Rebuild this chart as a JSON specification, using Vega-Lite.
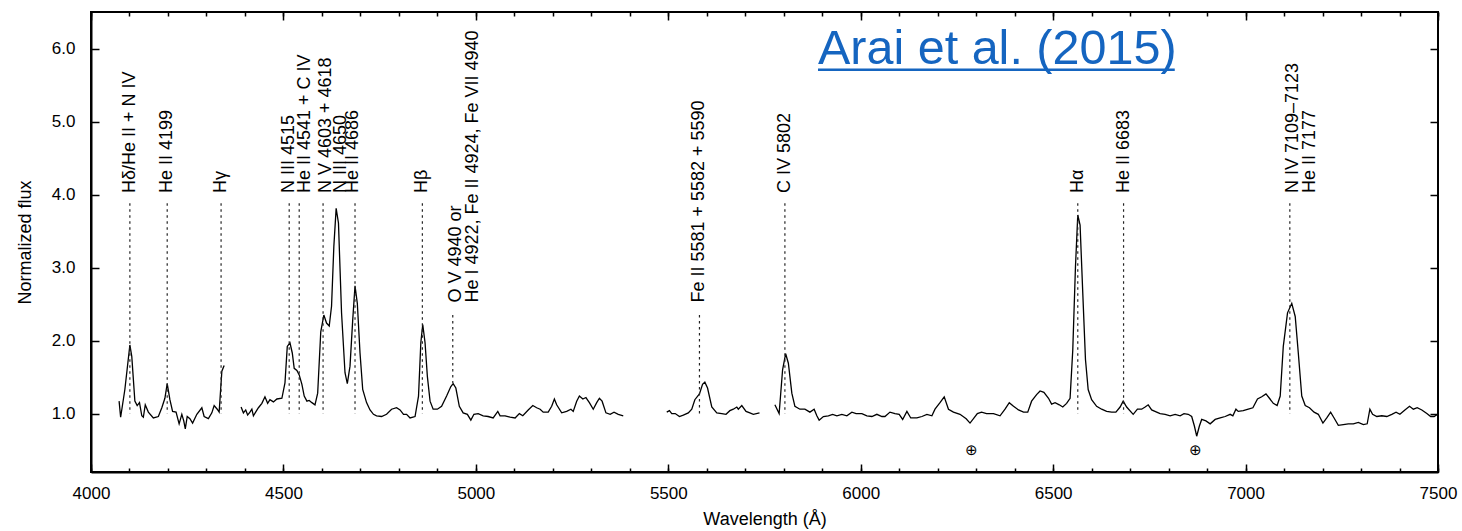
{
  "$schema": "https://vega.github.io/schema/vega-lite/v6.json",
  "width": 1347,
  "height": 460,
  "autosize": {"type": "none"},
  "padding": {"left": 91, "top": 12, "right": 24, "bottom": 59},
  "background": "white",
  "config": {
    "view": {"stroke": "black", "strokeWidth": 2},
    "font": "Liberation Sans",
    "axis": {
      "grid": false,
      "domainColor": "black",
      "domainWidth": 2,
      "tickColor": "black",
      "tickWidth": 1.5,
      "labelColor": "black",
      "titleColor": "black",
      "labelFont": "Liberation Sans",
      "titleFont": "Liberation Sans",
      "labelFontSize": 17,
      "titleFontSize": 18,
      "titleFontWeight": "normal"
    }
  },
  "datasets": {
    "spectrum": [
      {"w":4073,"f":1.17,"s":1},{"w":4077,"f":0.95,"s":1},{"w":4088,"f":1.33,"s":1},{"w":4101,"f":1.94,"s":1},{"w":4106,"f":1.78,"s":1},{"w":4114,"f":1.17,"s":1},{"w":4120,"f":1.11,"s":1},{"w":4126,"f":1.15,"s":1},{"w":4132,"f":0.97,"s":1},{"w":4136,"f":0.95,"s":1},{"w":4141,"f":1.12,"s":1},{"w":4149,"f":1.02,"s":1},{"w":4162,"f":0.94,"s":1},{"w":4175,"f":0.96,"s":1},{"w":4184,"f":1.08,"s":1},{"w":4192,"f":1.21,"s":1},{"w":4198,"f":1.41,"s":1},{"w":4205,"f":1.19,"s":1},{"w":4212,"f":1.03,"s":1},{"w":4221,"f":1.02,"s":1},{"w":4229,"f":0.86,"s":1},{"w":4236,"f":0.99,"s":1},{"w":4241,"f":0.90,"s":1},{"w":4245,"f":0.79,"s":1},{"w":4250,"f":0.96,"s":1},{"w":4257,"f":0.93,"s":1},{"w":4264,"f":0.87,"s":1},{"w":4275,"f":0.99,"s":1},{"w":4288,"f":1.08,"s":1},{"w":4294,"f":0.96,"s":1},{"w":4305,"f":0.93,"s":1},{"w":4314,"f":1.01,"s":1},{"w":4320,"f":1.11,"s":1},{"w":4328,"f":1.06,"s":1},{"w":4333,"f":1.02,"s":1},{"w":4340,"f":1.58,"s":1},{"w":4346,"f":1.66,"s":1},
      {"w":4390,"f":1.09,"s":2},{"w":4396,"f":1.01,"s":2},{"w":4402,"f":1.05,"s":2},{"w":4407,"f":0.98,"s":2},{"w":4413,"f":1.02,"s":2},{"w":4418,"f":1.06,"s":2},{"w":4422,"f":0.97,"s":2},{"w":4429,"f":1.03,"s":2},{"w":4435,"f":1.08,"s":2},{"w":4444,"f":1.14,"s":2},{"w":4452,"f":1.23,"s":2},{"w":4459,"f":1.14,"s":2},{"w":4465,"f":1.19,"s":2},{"w":4474,"f":1.16,"s":2},{"w":4483,"f":1.20,"s":2},{"w":4496,"f":1.21,"s":2},{"w":4504,"f":1.42,"s":2},{"w":4510,"f":1.92,"s":2},{"w":4517,"f":1.97,"s":2},{"w":4523,"f":1.83,"s":2},{"w":4528,"f":1.62,"s":2},{"w":4535,"f":1.59,"s":2},{"w":4541,"f":1.53,"s":2},{"w":4548,"f":1.40,"s":2},{"w":4554,"f":1.24,"s":2},{"w":4561,"f":1.17,"s":2},{"w":4567,"f":1.18,"s":2},{"w":4574,"f":1.15,"s":2},{"w":4582,"f":1.12,"s":2},{"w":4589,"f":1.28,"s":2},{"w":4597,"f":2.12,"s":2},{"w":4605,"f":2.35,"s":2},{"w":4612,"f":2.24,"s":2},{"w":4619,"f":2.20,"s":2},{"w":4625,"f":2.47,"s":2},{"w":4631,"f":3.29,"s":2},{"w":4637,"f":3.81,"s":2},{"w":4643,"f":3.61,"s":2},{"w":4651,"f":2.38,"s":2},{"w":4660,"f":1.56,"s":2},{"w":4666,"f":1.41,"s":2},{"w":4673,"f":1.65,"s":2},{"w":4680,"f":2.28,"s":2},{"w":4686,"f":2.75,"s":2},{"w":4692,"f":2.51,"s":2},{"w":4699,"f":1.83,"s":2},{"w":4706,"f":1.33,"s":2},{"w":4716,"f":1.15,"s":2},{"w":4725,"f":1.05,"s":2},{"w":4734,"f":0.99,"s":2},{"w":4742,"f":0.97,"s":2},{"w":4755,"f":0.96,"s":2},{"w":4768,"f":0.99,"s":2},{"w":4781,"f":1.06,"s":2},{"w":4794,"f":1.08,"s":2},{"w":4803,"f":1.05,"s":2},{"w":4812,"f":0.99,"s":2},{"w":4820,"f":0.99,"s":2},{"w":4829,"f":0.94,"s":2},{"w":4842,"f":0.96,"s":2},{"w":4851,"f":1.24,"s":2},{"w":4857,"f":1.97,"s":2},{"w":4862,"f":2.22,"s":2},{"w":4868,"f":1.97,"s":2},{"w":4874,"f":1.51,"s":2},{"w":4881,"f":1.17,"s":2},{"w":4889,"f":1.06,"s":2},{"w":4900,"f":1.06,"s":2},{"w":4911,"f":1.10,"s":2},{"w":4924,"f":1.24,"s":2},{"w":4935,"f":1.37,"s":2},{"w":4941,"f":1.41,"s":2},{"w":4948,"f":1.35,"s":2},{"w":4957,"f":1.10,"s":2},{"w":4967,"f":1.01,"s":2},{"w":4978,"f":0.99,"s":2},{"w":4987,"f":0.91,"s":2},{"w":4995,"f":0.99,"s":2},{"w":5006,"f":1.00,"s":2},{"w":5019,"f":0.97,"s":2},{"w":5032,"f":0.96,"s":2},{"w":5045,"f":0.94,"s":2},{"w":5057,"f":1.03,"s":2},{"w":5063,"f":0.97,"s":2},{"w":5076,"f":0.97,"s":2},{"w":5089,"f":0.95,"s":2},{"w":5102,"f":0.94,"s":2},{"w":5113,"f":1.00,"s":2},{"w":5122,"f":0.97,"s":2},{"w":5136,"f":1.05,"s":2},{"w":5148,"f":1.11,"s":2},{"w":5158,"f":1.08,"s":2},{"w":5167,"f":1.06,"s":2},{"w":5175,"f":1.02,"s":2},{"w":5188,"f":1.02,"s":2},{"w":5197,"f":1.10,"s":2},{"w":5204,"f":1.20,"s":2},{"w":5210,"f":1.12,"s":2},{"w":5223,"f":1.01,"s":2},{"w":5236,"f":1.03,"s":2},{"w":5247,"f":1.06,"s":2},{"w":5253,"f":1.03,"s":2},{"w":5262,"f":1.17,"s":2},{"w":5269,"f":1.24,"s":2},{"w":5278,"f":1.20,"s":2},{"w":5286,"f":1.22,"s":2},{"w":5295,"f":1.15,"s":2},{"w":5305,"f":1.06,"s":2},{"w":5314,"f":1.15,"s":2},{"w":5321,"f":1.21,"s":2},{"w":5328,"f":1.17,"s":2},{"w":5338,"f":1.01,"s":2},{"w":5349,"f":0.99,"s":2},{"w":5359,"f":1.02,"s":2},{"w":5370,"f":0.99,"s":2},{"w":5383,"f":0.97,"s":2},
      {"w":5496,"f":1.02,"s":3},{"w":5503,"f":1.04,"s":3},{"w":5509,"f":1.00,"s":3},{"w":5518,"f":1.00,"s":3},{"w":5529,"f":0.96,"s":3},{"w":5539,"f":0.98,"s":3},{"w":5552,"f":1.01,"s":3},{"w":5561,"f":1.06,"s":3},{"w":5569,"f":1.19,"s":3},{"w":5581,"f":1.27,"s":3},{"w":5589,"f":1.40,"s":3},{"w":5595,"f":1.43,"s":3},{"w":5602,"f":1.35,"s":3},{"w":5613,"f":1.09,"s":3},{"w":5626,"f":1.01,"s":3},{"w":5639,"f":1.00,"s":3},{"w":5650,"f":0.99,"s":3},{"w":5660,"f":1.04,"s":3},{"w":5669,"f":1.06,"s":3},{"w":5678,"f":1.09,"s":3},{"w":5682,"f":1.06,"s":3},{"w":5691,"f":1.11,"s":3},{"w":5702,"f":1.03,"s":3},{"w":5712,"f":1.01,"s":3},{"w":5721,"f":0.99,"s":3},{"w":5737,"f":1.01,"s":3},
      {"w":5777,"f":1.12,"s":4},{"w":5788,"f":1.00,"s":4},{"w":5797,"f":1.60,"s":4},{"w":5805,"f":1.82,"s":4},{"w":5812,"f":1.69,"s":4},{"w":5821,"f":1.28,"s":4},{"w":5829,"f":1.10,"s":4},{"w":5842,"f":1.06,"s":4},{"w":5855,"f":1.06,"s":4},{"w":5868,"f":1.02,"s":4},{"w":5879,"f":1.06,"s":4},{"w":5886,"f":0.97,"s":4},{"w":5892,"f":0.91,"s":4},{"w":5903,"f":0.96,"s":4},{"w":5916,"f":0.97,"s":4},{"w":5927,"f":0.99,"s":4},{"w":5938,"f":0.97,"s":4},{"w":5951,"f":0.99,"s":4},{"w":5964,"f":0.97,"s":4},{"w":5977,"f":1.02,"s":4},{"w":5988,"f":1.00,"s":4},{"w":6003,"f":1.00,"s":4},{"w":6016,"f":0.97,"s":4},{"w":6029,"f":0.96,"s":4},{"w":6042,"f":0.99,"s":4},{"w":6055,"f":0.96,"s":4},{"w":6063,"f":0.96,"s":4},{"w":6076,"f":1.02,"s":4},{"w":6089,"f":1.00,"s":4},{"w":6100,"f":0.99,"s":4},{"w":6109,"f":0.92,"s":4},{"w":6120,"f":1.03,"s":4},{"w":6130,"f":0.94,"s":4},{"w":6146,"f":0.94,"s":4},{"w":6159,"f":0.96,"s":4},{"w":6172,"f":0.99,"s":4},{"w":6185,"f":0.97,"s":4},{"w":6193,"f":1.06,"s":4},{"w":6206,"f":1.15,"s":4},{"w":6217,"f":1.23,"s":4},{"w":6228,"f":1.06,"s":4},{"w":6241,"f":1.02,"s":4},{"w":6258,"f":0.99,"s":4},{"w":6274,"f":0.93,"s":4},{"w":6284,"f":0.87,"s":4},{"w":6293,"f":0.93,"s":4},{"w":6303,"f":1.00,"s":4},{"w":6314,"f":1.02,"s":4},{"w":6327,"f":1.00,"s":4},{"w":6345,"f":1.00,"s":4},{"w":6362,"f":0.97,"s":4},{"w":6375,"f":1.06,"s":4},{"w":6386,"f":1.15,"s":4},{"w":6397,"f":1.10,"s":4},{"w":6410,"f":1.05,"s":4},{"w":6423,"f":1.02,"s":4},{"w":6434,"f":1.02,"s":4},{"w":6444,"f":1.17,"s":4},{"w":6457,"f":1.26,"s":4},{"w":6466,"f":1.31,"s":4},{"w":6476,"f":1.29,"s":4},{"w":6488,"f":1.21,"s":4},{"w":6496,"f":1.13,"s":4},{"w":6505,"f":1.15,"s":4},{"w":6516,"f":1.12,"s":4},{"w":6525,"f":1.09,"s":4},{"w":6535,"f":1.14,"s":4},{"w":6544,"f":1.21,"s":4},{"w":6551,"f":1.87,"s":4},{"w":6558,"f":3.01,"s":4},{"w":6564,"f":3.72,"s":4},{"w":6570,"f":3.58,"s":4},{"w":6577,"f":2.65,"s":4},{"w":6584,"f":1.74,"s":4},{"w":6591,"f":1.33,"s":4},{"w":6600,"f":1.19,"s":4},{"w":6613,"f":1.10,"s":4},{"w":6626,"f":1.06,"s":4},{"w":6639,"f":1.03,"s":4},{"w":6652,"f":1.02,"s":4},{"w":6663,"f":1.02,"s":4},{"w":6674,"f":1.09,"s":4},{"w":6682,"f":1.17,"s":4},{"w":6691,"f":1.09,"s":4},{"w":6708,"f":0.99,"s":4},{"w":6719,"f":1.06,"s":4},{"w":6730,"f":1.06,"s":4},{"w":6739,"f":1.09,"s":4},{"w":6747,"f":1.12,"s":4},{"w":6756,"f":1.05,"s":4},{"w":6769,"f":1.02,"s":4},{"w":6778,"f":1.00,"s":4},{"w":6791,"f":0.99,"s":4},{"w":6804,"f":0.97,"s":4},{"w":6817,"f":0.99,"s":4},{"w":6830,"f":0.97,"s":4},{"w":6840,"f":1.00,"s":4},{"w":6851,"f":0.99,"s":4},{"w":6860,"f":0.96,"s":4},{"w":6867,"f":0.83,"s":4},{"w":6873,"f":0.69,"s":4},{"w":6880,"f":0.83,"s":4},{"w":6886,"f":0.92,"s":4},{"w":6897,"f":0.90,"s":4},{"w":6908,"f":0.86,"s":4},{"w":6921,"f":0.92,"s":4},{"w":6934,"f":0.94,"s":4},{"w":6947,"f":0.96,"s":4},{"w":6960,"f":0.99,"s":4},{"w":6967,"f":0.97,"s":4},{"w":6975,"f":1.06,"s":4},{"w":6981,"f":1.03,"s":4},{"w":6994,"f":1.04,"s":4},{"w":7007,"f":1.06,"s":4},{"w":7019,"f":1.08,"s":4},{"w":7031,"f":1.20,"s":4},{"w":7042,"f":1.23,"s":4},{"w":7053,"f":1.27,"s":4},{"w":7062,"f":1.21,"s":4},{"w":7072,"f":1.14,"s":4},{"w":7082,"f":1.11,"s":4},{"w":7090,"f":1.24,"s":4},{"w":7098,"f":1.92,"s":4},{"w":7109,"f":2.38,"s":4},{"w":7120,"f":2.51,"s":4},{"w":7129,"f":2.33,"s":4},{"w":7137,"f":1.83,"s":4},{"w":7146,"f":1.24,"s":4},{"w":7155,"f":1.11,"s":4},{"w":7166,"f":1.08,"s":4},{"w":7178,"f":1.02,"s":4},{"w":7189,"f":0.99,"s":4},{"w":7201,"f":0.87,"s":4},{"w":7211,"f":0.94,"s":4},{"w":7221,"f":1.02,"s":4},{"w":7230,"f":0.94,"s":4},{"w":7241,"f":0.84,"s":4},{"w":7254,"f":0.85,"s":4},{"w":7267,"f":0.86,"s":4},{"w":7280,"f":0.86,"s":4},{"w":7293,"f":0.88,"s":4},{"w":7306,"f":0.85,"s":4},{"w":7316,"f":0.86,"s":4},{"w":7323,"f":1.06,"s":4},{"w":7330,"f":0.99,"s":4},{"w":7341,"f":0.96,"s":4},{"w":7354,"f":0.97,"s":4},{"w":7367,"f":0.96,"s":4},{"w":7380,"f":0.99,"s":4},{"w":7391,"f":1.02,"s":4},{"w":7401,"f":0.99,"s":4},{"w":7414,"f":1.05,"s":4},{"w":7426,"f":1.10,"s":4},{"w":7436,"f":1.06,"s":4},{"w":7446,"f":1.08,"s":4},{"w":7458,"f":1.05,"s":4},{"w":7471,"f":1.00,"s":4},{"w":7481,"f":0.96,"s":4},{"w":7490,"f":0.96,"s":4},{"w":7499,"f":0.99,"s":4}
    ],
    "lines": [
      {"w":4101,"label_w":4101,"label":"Hδ/He II + N IV","label_flux":4.02,"tick_top":3.88,"tick_bottom":1.0,"rows":1},
      {"w":4198,"label_w":4198,"label":"He II 4199","label_flux":4.02,"tick_top":3.88,"tick_bottom":1.0,"rows":1},
      {"w":4338,"label_w":4338,"label":"Hγ","label_flux":4.02,"tick_top":3.88,"tick_bottom":1.0,"rows":1},
      {"w":4515,"label_w":4515,"label":"N III 4515","label_flux":4.02,"tick_top":3.88,"tick_bottom":1.0,"rows":1},
      {"w":4541,"label_w":4556,"label":"He II 4541 + C IV","label_flux":4.02,"tick_top":3.88,"tick_bottom":1.0,"rows":1},
      {"w":4603,"label_w":4611,"label":"N V 4603 + 4618","label_flux":4.02,"tick_top":3.88,"tick_bottom":1.0,"rows":1},
      {"w":4650,"label_w":4650,"label":"N III 4650","label_flux":4.02,"tick_top":null,"tick_bottom":null,"rows":1},
      {"w":4686,"label_w":4680,"label":"He II 4686","label_flux":4.02,"tick_top":3.88,"tick_bottom":1.0,"rows":1},
      {"w":4861,"label_w":4861,"label":"Hβ","label_flux":4.02,"tick_top":3.88,"tick_bottom":1.0,"rows":1},
      {"w":4940,"label_w":4940,"label":"O V 4940 or\nHe I 4922, Fe II 4924, Fe VII 4940","label_flux":2.52,"tick_top":2.35,"tick_bottom":1.42,"rows":2},
      {"w":5581,"label_w":5581,"label":"Fe II 5581 + 5582 + 5590","label_flux":2.52,"tick_top":2.35,"tick_bottom":1.0,"rows":1},
      {"w":5803,"label_w":5803,"label":"C IV 5802","label_flux":4.02,"tick_top":3.88,"tick_bottom":1.0,"rows":1},
      {"w":6564,"label_w":6564,"label":"Hα","label_flux":4.02,"tick_top":3.88,"tick_bottom":1.0,"rows":1},
      {"w":6683,"label_w":6683,"label":"He II 6683","label_flux":4.02,"tick_top":3.88,"tick_bottom":1.0,"rows":1},
      {"w":7115,"label_w":7115,"label":"N IV 7109–7123\nHe II 7177","label_flux":4.02,"tick_top":3.88,"tick_bottom":1.0,"rows":2}
    ],
    "telluric": [
      {"w":6289,"f":0.495,"sym":"⊕"},
      {"w":6871,"f":0.495,"sym":"⊕"}
    ],
    "credit": [
      {"w":5889,"w_end":6816,"f":5.79,"f_rule":5.71,"text":"Arai et al. (2015)"}
    ]
  },
  "resolve": {"axis": {"x": "independent", "y": "independent"}},
  "layer": [
    {
      "data": {"name": "spectrum"},
      "mark": {"type": "line", "color": "black", "strokeWidth": 1.3},
      "encoding": {
        "x": {
          "field": "w", "type": "quantitative",
          "scale": {"domain": [4000, 7500], "nice": false, "zero": false},
          "axis": {
            "orient": "bottom",
            "values": [4000, 4500, 5000, 5500, 6000, 6500, 7000, 7500],
            "format": "d",
            "tickSize": -8,
            "labelPadding": 21,
            "labelFlush": false,
            "labelOverlap": false,
            "title": "Wavelength (Å)",
            "titleX": 673.5,
            "titleY": 47,
            "titleAlign": "center",
            "titleBaseline": "middle"
          }
        },
        "y": {
          "field": "f", "type": "quantitative",
          "scale": {"domain": [0.2, 6.5], "nice": false, "zero": false},
          "axis": {
            "orient": "left",
            "values": [1, 2, 3, 4, 5, 6],
            "format": ".1f",
            "tickSize": -8,
            "labelPadding": 24,
            "labelFlush": false,
            "title": "Normalized flux",
            "titleX": -66,
            "titleY": 230,
            "titleAngle": -90,
            "titleAlign": "center",
            "titleBaseline": "middle"
          }
        },
        "detail": {"field": "s"}
      }
    },
    {
      "data": {"name": "lines"},
      "transform": [{"filter": "datum.tick_top != null"}],
      "mark": {"type": "rule", "color": "#222222", "strokeWidth": 1.2, "strokeDash": [2.5, 3.5]},
      "encoding": {
        "x": {
          "field": "w", "type": "quantitative",
          "scale": {"domain": [4000, 7500], "nice": false, "zero": false},
          "axis": {
            "orient": "bottom",
            "values": [4000,4100,4200,4300,4400,4500,4600,4700,4800,4900,5000,5100,5200,5300,5400,5500,5600,5700,5800,5900,6000,6100,6200,6300,6400,6500,6600,6700,6800,6900,7000,7100,7200,7300,7400,7500],
            "tickSize": -4,
            "labels": false,
            "domain": false,
            "title": null
          }
        },
        "y": {
          "field": "tick_top", "type": "quantitative",
          "scale": {"domain": [0.2, 6.5], "nice": false, "zero": false},
          "axis": {
            "orient": "right",
            "values": [1, 2, 3, 4, 5, 6],
            "tickSize": -8,
            "labels": false,
            "domain": false,
            "title": null
          }
        },
        "y2": {"field": "tick_bottom"}
      }
    },
    {
      "data": {"name": "lines"},
      "transform": [{"filter": "datum.rows == 1"}],
      "mark": {"type": "text", "angle": 270, "align": "left", "baseline": "middle", "fontSize": 18, "color": "black", "font": "Liberation Sans"},
      "encoding": {
        "x": {
          "field": "label_w", "type": "quantitative",
          "scale": {"domain": [4000, 7500], "nice": false, "zero": false},
          "axis": {
            "orient": "top",
            "values": [4000, 4500, 5000, 5500, 6000, 6500, 7000, 7500],
            "tickSize": -8,
            "labels": false,
            "domain": false,
            "title": null
          }
        },
        "y": {
          "field": "label_flux", "type": "quantitative",
          "scale": {"domain": [0.2, 6.5], "nice": false, "zero": false},
          "axis": null
        },
        "text": {"field": "label"}
      }
    },
    {
      "data": {"name": "lines"},
      "transform": [{"filter": "datum.rows == 2"}],
      "mark": {"type": "text", "angle": 270, "align": "left", "baseline": "middle", "fontSize": 18, "lineBreak": "\n", "lineHeight": 17, "dy": 3, "color": "black", "font": "Liberation Sans"},
      "encoding": {
        "x": {
          "field": "label_w", "type": "quantitative",
          "scale": {"domain": [4000, 7500], "nice": false, "zero": false},
          "axis": {
            "orient": "top",
            "values": [4000,4100,4200,4300,4400,4500,4600,4700,4800,4900,5000,5100,5200,5300,5400,5500,5600,5700,5800,5900,6000,6100,6200,6300,6400,6500,6600,6700,6800,6900,7000,7100,7200,7300,7400,7500],
            "tickSize": -4,
            "labels": false,
            "domain": false,
            "title": null
          }
        },
        "y": {
          "field": "label_flux", "type": "quantitative",
          "scale": {"domain": [0.2, 6.5], "nice": false, "zero": false},
          "axis": null
        },
        "text": {"field": "label"}
      }
    },
    {
      "data": {"name": "telluric"},
      "mark": {"type": "text", "fontSize": 15, "color": "black", "baseline": "middle", "align": "center"},
      "encoding": {
        "x": {"field": "w", "type": "quantitative", "scale": {"domain": [4000, 7500], "nice": false, "zero": false}, "axis": null},
        "y": {"field": "f", "type": "quantitative", "scale": {"domain": [0.2, 6.5], "nice": false, "zero": false}, "axis": null},
        "text": {"field": "sym"}
      }
    },
    {
      "data": {"name": "credit"},
      "mark": {"type": "text", "fontSize": 48.5, "color": "#1565c0", "align": "left", "baseline": "alphabetic", "font": "Liberation Sans"},
      "encoding": {
        "x": {"field": "w", "type": "quantitative", "scale": {"domain": [4000, 7500], "nice": false, "zero": false}, "axis": null},
        "y": {"field": "f", "type": "quantitative", "scale": {"domain": [0.2, 6.5], "nice": false, "zero": false}, "axis": null},
        "text": {"field": "text"}
      }
    },
    {
      "data": {"name": "credit"},
      "mark": {"type": "rule", "color": "#1565c0", "strokeWidth": 2.5},
      "encoding": {
        "x": {"field": "w", "type": "quantitative", "scale": {"domain": [4000, 7500], "nice": false, "zero": false}, "axis": null},
        "x2": {"field": "w_end"},
        "y": {"field": "f_rule", "type": "quantitative", "scale": {"domain": [0.2, 6.5], "nice": false, "zero": false}, "axis": null}
      }
    }
  ]
}
